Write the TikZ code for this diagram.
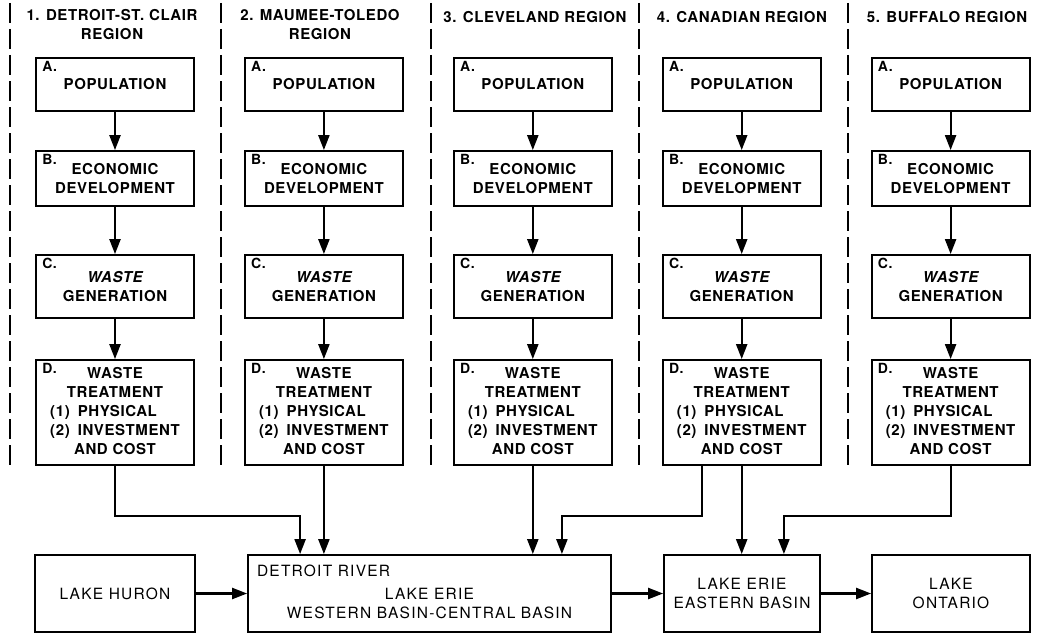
\documentclass[tikz,border=0pt]{standalone}
\usepackage{fontspec}
\usetikzlibrary{arrows.meta}
\newfontfamily\upfont{TeX Gyre Heros}[LetterSpace=4]
\newfontfamily\lakefont{TeX Gyre Heros}[LetterSpace=8]
\newcommand\midline[1]{\multicolumn{1}{@{}c@{}}{#1}}
\tikzset{
    box/.style={draw, line width=1.8pt, minimum width=158pt, inner sep=2pt, align=center,
        font={\upfont\bfseries\fontsize{15}{19}\selectfont}},
    tag/.style={anchor=north west, inner sep=0pt, xshift=7pt, yshift=-4pt,
        font={\upfont\bfseries\fontsize{14}{14}\selectfont}},
    lake/.style={draw, line width=1.8pt, minimum height=77pt, align=center,
        font={\lakefont\fontsize{15.5}{19}\selectfont}},
    regtitle/.style={anchor=north, align=center, font={\upfont\bfseries\fontsize{15}{19}\selectfont}},
    arr/.style={line width=2.2pt, -{Stealth[inset=0pt,length=15pt,width=11pt]}},
    divider/.style={line width=1.8pt, dash pattern=on 20pt off 6pt}
}
\begin{document}
\begin{tikzpicture}[x=1pt, y=-1pt]
        \useasboundingbox (0,0) rectangle (1057,634);
        \foreach \x in {10,221,431,639,848}
            \draw[divider] (\x,3) -- (\x,468);

        \node[regtitle] (title1) at (112,6) {1. DETROIT-ST. CLAIR\\REGION};
        \node[regtitle] (title2) at (320,6) {2. MAUMEE-TOLEDO\\REGION};
        \node[regtitle] (title3) at (535,8) {3. CLEVELAND REGION};
        \node[regtitle] (title4) at (742,8) {4. CANADIAN REGION};
        \node[regtitle] (title5) at (947,8) {5. BUFFALO REGION};

        \foreach \i in {1,...,5}{
            \pgfmathsetmacro\cx{115+208.9*(\i-1)}
            \node[box, minimum height=53pt, label={[tag]north west:A.}] (pop\i) at (\cx,84.5) {POPULATION};
            \node[box, minimum height=55pt, label={[tag]north west:B.}] (eco\i) at (\cx,178.5) {ECONOMIC\\DEVELOPMENT};
            \node[box, minimum height=63pt, label={[tag]north west:C.}] (gen\i) at (\cx,286.5) {{\itshape WASTE}\\GENERATION};
            \node[box, minimum height=105pt, label={[tag]north west:D.}] (treat\i) at (\cx,412.5)
                {\begin{tabular}{@{}l@{}}\midline{WASTE}\\\midline{TREATMENT}\\(1)\hspace{8pt}PHYSICAL\\(2)\hspace{8pt}INVESTMENT\\\midline{AND COST}\end{tabular}};
            \draw[arr] (pop\i) -- (eco\i);
            \draw[arr] (eco\i) -- (gen\i);
            \draw[arr] (gen\i) -- (treat\i);
        }

        \node[lake, minimum width=160pt] (huron) at (115,593.5) {LAKE HURON};
        \node[lake, minimum width=363pt] (erie) at (429.5,593.5)
            {\begin{tabular}{@{}c@{}}\makebox[345pt][l]{DETROIT RIVER}\\[4pt]LAKE ERIE\\WESTERN BASIN-CENTRAL BASIN\end{tabular}};
        \node[lake, minimum width=156pt] (east) at (742,593.5) {LAKE ERIE\\EASTERN BASIN};
        \node[lake, minimum width=158pt] (ontario) at (951,593.5) {LAKE\\ONTARIO};

        \draw[arr] (huron) -- (erie);
        \draw[arr] (erie) -- (east);
        \draw[arr] (east) -- (ontario);

        \draw[arr] (treat1.south) -- ++(0,50) -| ([xshift=53pt]erie.north west);
        \draw[arr] (treat2) -- (treat2 |- erie.north);
        \draw[arr] (treat3) -- (treat3 |- erie.north);
        \draw[arr] ([xshift=40pt]treat4.south west) -- ++(0,50) -| ([xshift=-50pt]erie.north east);
        \draw[arr] (treat4) -- (treat4 |- east.north);
        \draw[arr] (treat5.south) -- ++(0,50) -| ([xshift=-37pt]east.north east);
    \end{tikzpicture}
\end{document}
